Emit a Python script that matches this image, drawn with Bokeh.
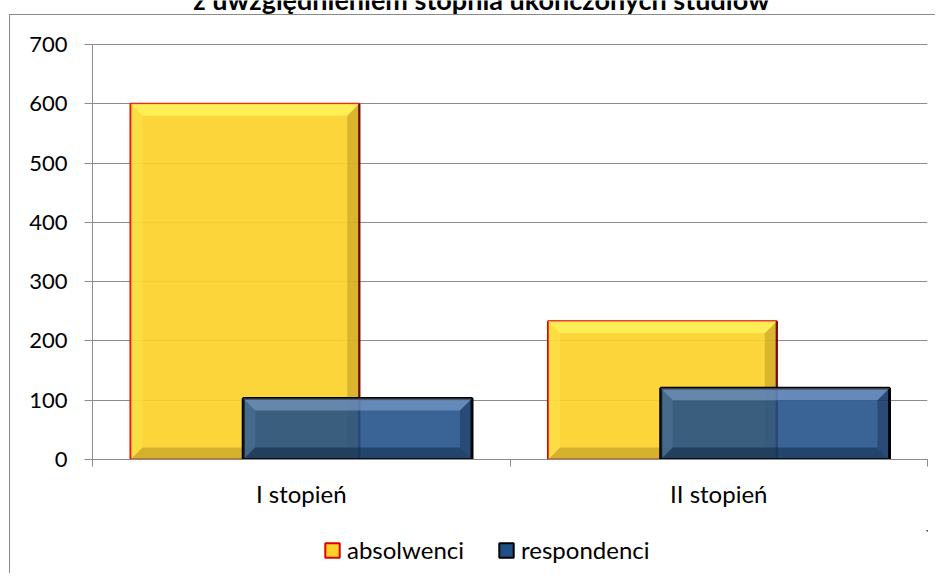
import numpy as np
from bokeh.plotting import figure
from bokeh.layouts import column
from bokeh.models import (Range1d, LinearAxis, FixedTicker, Legend, LegendItem,
                          Label, Grid)
from bokeh.embed import file_html
from bokeh.resources import INLINE

# ---- data ----
categories = ["I stopień", "II stopień"]
series_names = ["absolwenci", "respondenci"]
absolwenci = [600, 233]
respondenci = [103, 120]
y_ticks = [0, 100, 200, 300, 400, 500, 600, 700]
title_text = "z uwzględnieniem stopnia ukończonych studiów"

FONT = "Lato"
W = 935
H_MAIN, H_LEG = 530, 43
TOP_PAD = 44      # px between canvas top and the 700 line
PLOT_PX = 415     # px between 0 and 700
Y_MAX = 700
YELLOW, YELLOW_LINE = "#FCD129", "#DD0000"
BLUE, BLUE_LINE = "#1F4F88", "black"
GRAY = "#8c8c8c"

line_bg = "linear-gradient(#8a8a8a, #8a8a8a)"

p = figure(width=W, height=H_MAIN, output_backend="svg", toolbar_location=None,
           x_range=Range1d(0, len(categories)),
           y_range=Range1d(0, Y_MAX * (1 + TOP_PAD / PLOT_PX)),
           x_axis_type=None, y_axis_type=None,
           min_border_left=92, min_border_right=8, min_border_top=0,
           min_border_bottom=H_MAIN - TOP_PAD - PLOT_PX)
p.outline_line_color = None
p.background_fill_alpha = 0
p.border_fill_alpha = 0
p.styles = {
    "background-color": "white",
    "background-image": f"{line_bg}, {line_bg}",
    "background-size": "1px 100%, 100% 1px",
    "background-position": "9px 14px, 9px 14px",
    "background-repeat": "no-repeat",
}

# y axis
yax = LinearAxis(ticker=FixedTicker(ticks=y_ticks), bounds=(0, Y_MAX))
yax.axis_line_color = GRAY
yax.major_tick_line_color = GRAY
yax.major_tick_in = 0
yax.major_tick_out = 8
yax.minor_tick_line_color = None
yax.major_label_standoff = 17
yax.major_label_text_font = FONT
yax.major_label_text_font_size = "22px"
yax.major_label_text_color = "black"
p.add_layout(yax, "left")

# x axis: labels at category centres, ticks at category boundaries
idx = np.arange(len(categories))
centers = idx + 0.5
xax = LinearAxis(ticker=FixedTicker(ticks=list(centers),
                                    minor_ticks=list(np.arange(len(categories) + 1))))
xax.major_label_overrides = {float(c): lab for c, lab in zip(centers, categories)}
xax.axis_line_color = GRAY
xax.major_tick_line_color = None
xax.major_tick_in = 0
xax.major_tick_out = 7
xax.minor_tick_line_color = GRAY
xax.minor_tick_in = 0
xax.minor_tick_out = 7
xax.major_label_standoff = 12
xax.major_label_text_font = FONT
xax.major_label_text_font_size = "24px"
xax.major_label_text_color = "black"
p.add_layout(xax, "below")

g = Grid(dimension=1, ticker=yax.ticker, grid_line_color=GRAY, grid_line_width=1)
p.add_layout(g)

# bars
OFF = 0.135
BW = 0.548
px_x = len(categories) / (W - 92 - 8)
px_y = Y_MAX / PLOT_PX
bev_x = 12 * px_x
bev_y = 12 * px_y


def bevel(xc, top, light, dark, a_top, a_bot, a_right, a_left):
    xs_t, ys_t, xs_b, ys_b, xs_r, ys_r, xs_l, ys_l = [], [], [], [], [], [], [], []
    for x, t in zip(xc, top):
        l, r, b = x - BW / 2, x + BW / 2, 0
        by = min(bev_y, t / 2)
        xs_t.append([l, r, r - bev_x, l + bev_x]); ys_t.append([t, t, t - by, t - by])
        xs_b.append([l, r, r - bev_x, l + bev_x]); ys_b.append([b, b, b + by, b + by])
        xs_r.append([r, r, r - bev_x, r - bev_x]); ys_r.append([b, t, t - by, b + by])
        xs_l.append([l, l, l + bev_x, l + bev_x]); ys_l.append([b, t, t - by, b + by])
    p.patches(xs_t, ys_t, fill_color=light, fill_alpha=a_top, line_color=None)
    p.patches(xs_b, ys_b, fill_color=dark, fill_alpha=a_bot, line_color=None)
    p.patches(xs_r, ys_r, fill_color=dark, fill_alpha=a_right, line_color=None)
    p.patches(xs_l, ys_l, fill_color=light, fill_alpha=a_left, line_color=None)


xa = centers - OFF
xr = centers + OFF
p.vbar(x=xa, top=absolwenci, width=BW, bottom=0,
       fill_color=YELLOW, fill_alpha=0.92, line_color=YELLOW_LINE, line_width=2)
bevel(xa, absolwenci, "#FFF25C", "#9C7A1E", 0.85, 0.4, 0.35, 0.3)
p.segment(x0=xa + BW / 2, y0=[0] * len(xa), x1=xa + BW / 2, y1=absolwenci,
          line_color="#6a1010", line_width=2)
p.vbar(x=xr, top=respondenci, width=BW, bottom=0,
       fill_color=BLUE, fill_alpha=0.88, line_color=BLUE_LINE, line_width=3)
bevel(xr, respondenci, "#8FB0DA", "#0B1E38", 0.5, 0.45, 0.35, 0.15)

title = Label(x=481, y=-1, x_units="canvas", y_units="canvas", text=title_text,
              text_align="center", text_baseline="alphabetic",
              text_font=FONT, text_font_style="bold", text_font_size="27px",
              text_color="black")
p.add_layout(title)

# ---- legend strip (own small canvas below, so the legend is not clipped) ----
# its frame is aligned with the main frame by the column layout; its ranges are
# set well away from the data so the key renderers draw nothing visible
p2 = figure(width=W, height=H_LEG, output_backend="svg", toolbar_location=None,
            x_range=Range1d(-20, -20 + len(categories)), y_range=Range1d(-2000, -1000),
            x_axis_type=None, y_axis_type=None,
            min_border_left=0, min_border_right=0, min_border_top=0, min_border_bottom=0)
p2.outline_line_color = None
p2.background_fill_alpha = 0
p2.border_fill_alpha = 0
p2.styles = {
    "background-color": "white",
    "background-image": line_bg,
    "background-size": "1px 100%",
    "background-position": "9px 0px",
    "background-repeat": "no-repeat",
}
k1 = p2.vbar(x=xa, top=absolwenci, bottom=0, width=BW,
             fill_color=YELLOW, line_color=YELLOW_LINE, line_width=2)
k2 = p2.vbar(x=xr, top=respondenci, bottom=0, width=BW,
             fill_color=BLUE, line_color=BLUE_LINE, line_width=2)
legend = Legend(items=[LegendItem(label=series_names[0], renderers=[k1]),
                       LegendItem(label=series_names[1], renderers=[k2])],
                orientation="horizontal", location=(231, 9),
                glyph_width=18, glyph_height=18, label_standoff=6, spacing=33,
                padding=0, margin=0, border_line_color=None,
                background_fill_alpha=0,
                label_text_font=FONT, label_text_font_size="24px",
                label_text_color="black")
p2.add_layout(legend, "center")

layout = column(p, p2, spacing=0)
open("out.html", "w").write(file_html(layout, INLINE))
